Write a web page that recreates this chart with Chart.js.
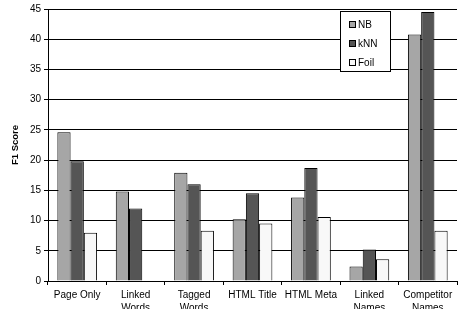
<!DOCTYPE html>
<html>
<head>
<meta charset="utf-8">
<script src="https://cdn.jsdelivr.net/npm/chart.js@4/dist/chart.umd.min.js"></script>
<style>
  html, body { margin: 0; padding: 0; background: #fff; }
  #wrap { width: 467px; height: 309px; }
</style>
</head>
<body>
<div id="wrap"><canvas id="f1-chart"></canvas></div>
<script>
// Categories (two-line labels, as in the original)
var categories = [
    ['Page Only'],
    ['Linked', 'Words'],
    ['Tagged', 'Words'],
    ['HTML Title'],
    ['HTML Meta'],
    ['Linked', 'Names'],
    ['Competitor', 'Names']
];

// F1 scores per classifier
var nb_scores   = [24.6, 14.8, 17.9, 10.2, 13.8, 2.4, 40.8];
var knn_scores  = [19.8, 12.0, 16.0, 14.5, 18.7, 5.2, 44.5];
var foil_scores = [8.0, 0, 8.3, 9.5, 10.6, 3.6, 8.3];

var y_ticks_max = 45;
var y_ticks_step = 5;

Chart.defaults.font.family = '"Liberation Sans", Arial, sans-serif';
Chart.defaults.font.size = 10;
Chart.defaults.color = '#000';

// Legend box drawn inside the plot (top right), like the original figure
var boxLegend = {
    id: 'boxLegend',
    afterDraw: function (chart) {
        var c = chart.ctx;
        var x = 340, y = 11, w = 50, h = 60;
        c.save();
        c.fillStyle = '#fff';
        c.fillRect(x, y, w, h);
        c.strokeStyle = '#000';
        c.lineWidth = 1;
        c.strokeRect(x + 0.5, y + 0.5, w, h);
        c.font = '10px "Liberation Sans", Arial, sans-serif';
        c.textBaseline = 'middle';
        chart.data.datasets.forEach(function (ds, i) {
            var cy = y + 13 + i * 19;
            c.fillStyle = ds.backgroundColor;
            c.fillRect(x + 9, cy - 3, 7, 7);
            c.strokeStyle = '#000';
            c.strokeRect(x + 9.5, cy - 2.5, 6, 6);
            c.fillStyle = '#000';
            c.fillText(ds.label, x + 18, cy + 1);
        });
        c.restore();
    }
};

var ctx = document.getElementById('f1-chart').getContext('2d');
var chart = new Chart(ctx, {
    type: 'bar',
    data: {
        labels: categories,
        datasets: [
            {
                label: 'NB',
                data: nb_scores,
                backgroundColor: '#a6a6a6',
                borderColor: '#000',
                borderWidth: 1
            },
            {
                label: 'kNN',
                data: knn_scores,
                backgroundColor: '#555555',
                borderColor: '#000',
                borderWidth: 1
            },
            {
                label: 'Foil',
                data: foil_scores,
                backgroundColor: '#f8f8f8',
                borderColor: '#000',
                borderWidth: 1
            }
        ]
    },
    options: {
        responsive: true,
        maintainAspectRatio: false,
        animation: false,
        layout: { padding: { top: 9, right: 10, left: 10, bottom: 0 } },
        datasets: {
            bar: { categoryPercentage: 0.68, barPercentage: 1.0 }
        },
        plugins: {
            legend: { display: false },
            tooltip: { enabled: false }
        },
        scales: {
            x: {
                grid: {
                    offset: true,
                    drawOnChartArea: false,
                    drawTicks: true,
                    tickLength: 4,
                    color: '#000'
                },
                border: { color: '#000' },
                ticks: {
                    padding: 3,
                    maxRotation: 0,
                    autoSkip: false,
                    font: { size: 10, lineHeight: 1.35 }
                },
                afterFit: function (scale) { scale.height = 28; }
            },
            y: {
                min: 0,
                max: y_ticks_max,
                ticks: { stepSize: y_ticks_step, padding: 3, font: { size: 10 } },
                grid: { color: '#000', tickLength: 4 },
                border: { color: '#000' },
                title: {
                    display: true,
                    text: 'F1 Score',
                    font: { size: 9.5, weight: 'bold' },
                    padding: { top: 0, bottom: 0 }
                },
                afterFit: function (scale) { scale.width = 38; }
            }
        }
    },
    plugins: [boxLegend]
});
</script>
</body>
</html>
